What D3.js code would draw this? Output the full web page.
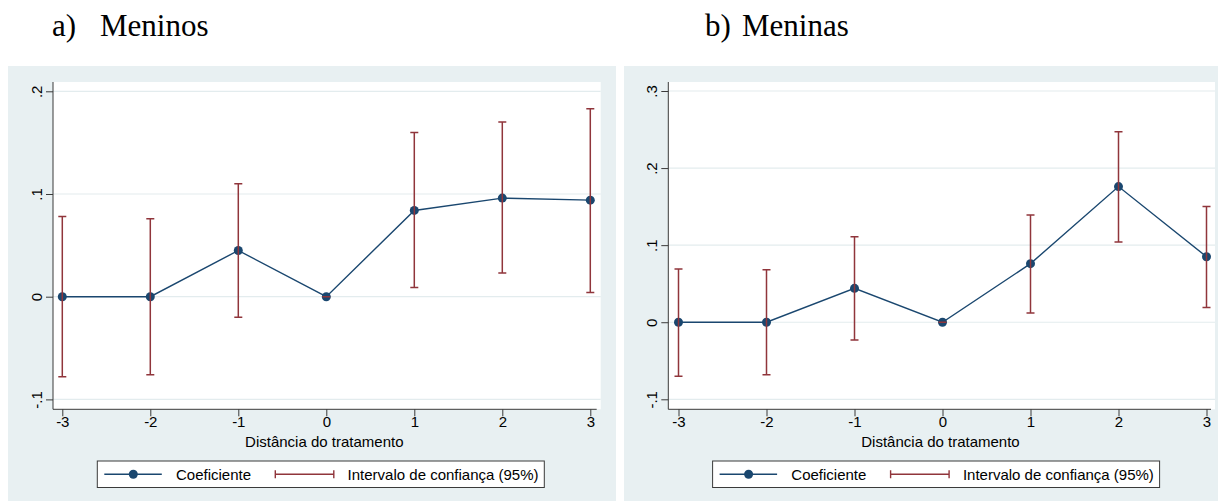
<!DOCTYPE html>
<html>
<head>
<meta charset="utf-8">
<script src="https://cdn.jsdelivr.net/npm/d3@7"></script>
<style>
  html, body { margin: 0; padding: 0; background: #ffffff; }
  svg { display: block; }
  text { font-family: "Liberation Sans", Arial, sans-serif; fill: #000; }
  .title { font-family: "Liberation Serif", "Times New Roman", serif; }
</style>
</head>
<body>
<svg id="chart" width="1218" height="501"></svg>
<script>
// Distância do tratamento (event time)
const distancias = [-3, -2, -1, 0, 1, 2, 3];

// a) Meninos
const meninosCoef = [0, 0, 0.045, 0, 0.084, 0.096, 0.094];
const meninosLow  = [-0.078, -0.076, -0.020, 0, 0.009, 0.023, 0.004];
const meninosHigh = [0.078, 0.076, 0.110, 0, 0.160, 0.170, 0.183];
const meninosYTicks = [-0.1, 0, 0.1, 0.2];

// b) Meninas
const meninasCoef = [0, 0, 0.044, 0, 0.076, 0.176, 0.085];
const meninasLow  = [-0.070, -0.068, -0.023, 0, 0.012, 0.104, 0.019];
const meninasHigh = [0.069, 0.068, 0.111, 0, 0.139, 0.247, 0.150];
const meninasYTicks = [-0.1, 0, 0.1, 0.2, 0.3];

const xTitle = "Distância do tratamento";
const legendCoef = "Coeficiente";
const legendCI = "Intervalo de confiança (95%)";

const NAVY = "#1a476f";
const MAROON = "#90353b";
const BG = "#e8f0f2";
const GRID = "#e3ecee";

const svg = d3.select("#chart");

// Stata-style tick labels with an ASCII hyphen: .1, -.1, 0
const fmtTick = v => {
  if (Math.abs(v) < 1e-9) return "0";
  const s = Math.abs(v).toFixed(1).replace(/^0\./, ".");
  return (v < 0 ? "-" : "") + s;
};
const fmtInt = v => (v < 0 ? "-" : "") + Math.abs(v);

function panel(cfg) {
  const g = svg.append("g");

  // graph region
  g.append("rect")
    .attr("x", cfg.bgX0).attr("y", 66)
    .attr("width", cfg.bgX1 - cfg.bgX0).attr("height", 501 - 66)
    .attr("fill", BG);

  // plot region
  g.append("rect")
    .attr("x", cfg.plotX0).attr("y", 82)
    .attr("width", cfg.plotX1 - cfg.plotX0).attr("height", 409.3 - 82)
    .attr("fill", "#ffffff");

  const x = d3.scaleLinear().domain([-3, 3]).range(cfg.xRange);
  const y = d3.scaleLinear().domain(cfg.yDomain).range(cfg.yRange);

  // horizontal gridlines
  g.append("g").selectAll("line")
    .data(cfg.yTicks)
    .join("line")
    .attr("x1", cfg.plotX0).attr("x2", cfg.plotX1)
    .attr("y1", d => y(d)).attr("y2", d => y(d))
    .attr("stroke", GRID).attr("stroke-width", 1.2);

  // y axis
  const yAxis = g.append("g")
    .attr("transform", `translate(${cfg.plotX0},0)`)
    .call(d3.axisLeft(y).tickValues(cfg.yTicks).tickFormat(fmtTick).tickSize(7).tickSizeOuter(0));
  yAxis.select(".domain")
    .attr("d", `M0,82V409.3`)
    .attr("stroke", "#3a3a3a");
  yAxis.selectAll(".tick line").attr("stroke", "#3a3a3a");
  yAxis.selectAll(".tick text")
    .attr("x", null).attr("dy", null)
    .attr("transform", "translate(-11.5,0) rotate(-90)")
    .attr("text-anchor", "middle")
    .style("font-size", "15px")
    .style("font-family", "'Liberation Sans', Arial, sans-serif")
    .attr("fill", "#000");

  // x axis
  const xAxis = g.append("g")
    .attr("transform", "translate(0,409.3)")
    .call(d3.axisBottom(x).tickValues(distancias).tickFormat(fmtInt).tickSize(7).tickSizeOuter(0));
  xAxis.select(".domain")
    .attr("d", `M${cfg.plotX0},0H${cfg.plotX1 - 4}`)
    .attr("stroke", "#3a3a3a");
  xAxis.selectAll(".tick line").attr("stroke", "#3a3a3a");
  xAxis.selectAll(".tick text")
    .attr("y", 18).attr("dy", null)
    .style("font-size", "15px")
    .style("font-family", "'Liberation Sans', Arial, sans-serif")
    .attr("fill", "#000");

  // axis title
  g.append("text")
    .attr("x", (cfg.xRange[0] + cfg.xRange[1]) / 2 - 2)
    .attr("y", 447)
    .attr("text-anchor", "middle")
    .style("font-size", "15px")
    .text(xTitle);

  const rows = distancias.map((d, i) => ({
    d, c: cfg.coef[i], lo: cfg.low[i], hi: cfg.high[i]
  }));

  // coefficient line
  g.append("path")
    .datum(rows)
    .attr("fill", "none")
    .attr("stroke", NAVY)
    .attr("stroke-width", 1.4)
    .attr("d", d3.line().x(r => x(r.d)).y(r => y(r.c)));

  // markers
  g.append("g").selectAll("circle")
    .data(rows)
    .join("circle")
    .attr("cx", r => x(r.d)).attr("cy", r => y(r.c))
    .attr("r", 4.5)
    .attr("fill", NAVY);

  // confidence intervals (capped spikes)
  const ci = g.append("g")
    .attr("stroke", MAROON).attr("stroke-width", 1.5).attr("fill", "none");
  ci.selectAll("path")
    .data(rows)
    .join("path")
    .attr("d", r => {
      const cx = x(r.d), y0 = y(r.lo), y1 = y(r.hi), w = 4;
      return `M${cx},${y0}V${y1}M${cx - w},${y1}H${cx + w}M${cx - w},${y0}H${cx + w}`;
    });

  // legend
  const lx = cfg.plotX0 + 44.3, ly = 461, lw = 447, lh = 26.5;
  const lg = g.append("g");
  lg.append("rect")
    .attr("x", lx).attr("y", ly).attr("width", lw).attr("height", lh)
    .attr("fill", "#ffffff").attr("stroke", "#3a3a3a").attr("stroke-width", 1);
  const cy = ly + lh / 2;
  lg.append("line")
    .attr("x1", lx + 7).attr("x2", lx + 64.5)
    .attr("y1", cy).attr("y2", cy)
    .attr("stroke", NAVY).attr("stroke-width", 1.4);
  lg.append("circle")
    .attr("cx", lx + 36).attr("cy", cy).attr("r", 4.5).attr("fill", NAVY);
  lg.append("text")
    .attr("x", lx + 78.7).attr("y", cy + 5.4)
    .style("font-size", "15px")
    .text(legendCoef);
  lg.append("path")
    .attr("d", `M${lx + 178},${cy}H${lx + 236.5}M${lx + 178},${cy - 4}V${cy + 4}M${lx + 236.5},${cy - 4}V${cy + 4}`)
    .attr("stroke", MAROON).attr("stroke-width", 1.4).attr("fill", "none");
  lg.append("text")
    .attr("x", lx + 250.3).attr("y", cy + 5.4)
    .style("font-size", "15px")
    .text(legendCI);

  // panel title
  const t = svg.append("g").attr("class", "title");
  t.append("text").attr("class", "title")
    .attr("x", cfg.titleX0).attr("y", 35.5)
    .style("font-size", "31px")
    .text(cfg.tag);
  t.append("text").attr("class", "title")
    .attr("x", cfg.titleX1).attr("y", 35.5)
    .style("font-size", "31px")
    .text(cfg.name);
}

panel({
  bgX0: 8, bgX1: 616, plotX0: 53, plotX1: 600.7,
  xRange: [62.3, 590.3],
  yDomain: [-0.1, 0.2], yRange: [399.4, 91.3], yTicks: meninosYTicks,
  coef: meninosCoef, low: meninosLow, high: meninosHigh,
  tag: "a)", name: "Meninos", titleX0: 52, titleX1: 100
});

panel({
  bgX0: 624, bgX1: 1218, plotX0: 668.3, plotX1: 1215,
  xRange: [678.5, 1206.5],
  yDomain: [-0.1, 0.3], yRange: [399.3, 91], yTicks: meninasYTicks,
  coef: meninasCoef, low: meninasLow, high: meninasHigh,
  tag: "b)", name: "Meninas", titleX0: 705, titleX1: 742
});
</script>
</body>
</html>
